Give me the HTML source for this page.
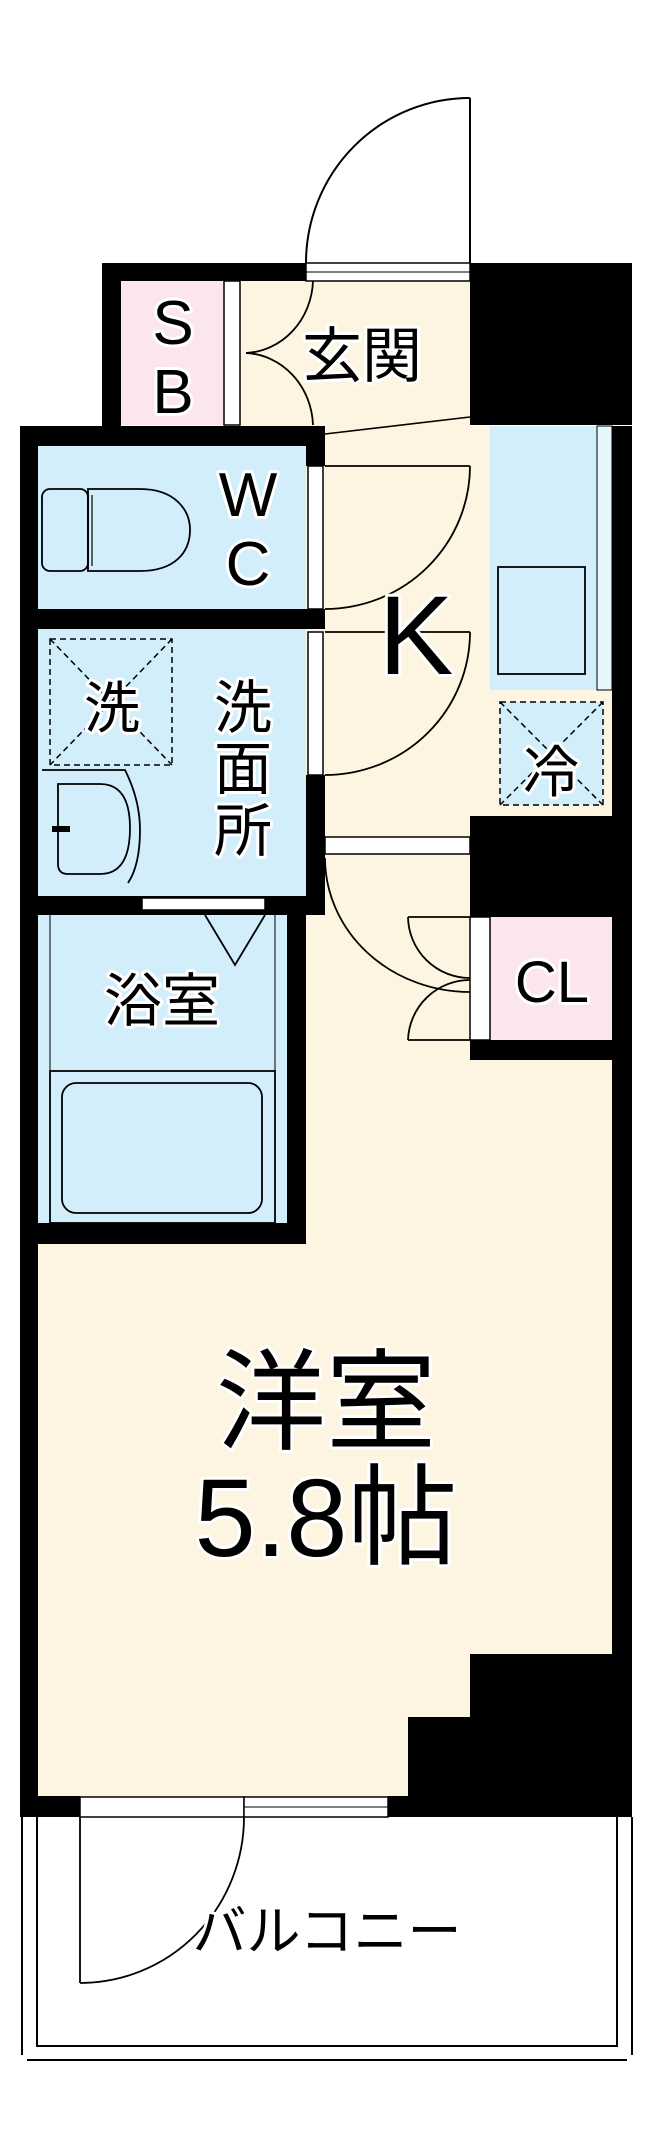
<!DOCTYPE html>
<html><head><meta charset="utf-8"><style>
html,body{margin:0;padding:0;background:#fff;}
svg{display:block;}
text{font-family:"Liberation Sans","Noto Sans CJK JP",sans-serif;fill:#000;stroke:#fff;stroke-width:6px;paint-order:stroke;stroke-linejoin:round;}
</style></head><body>
<svg width="654" height="2154" viewBox="0 0 654 2154" xmlns="http://www.w3.org/2000/svg">
<rect width="654" height="2154" fill="#fff"/>
<!-- floors -->
<rect x="240" y="281" width="230" height="150" fill="#fdf5e2"/>
<rect x="121" y="281" width="103" height="144" fill="#fbe6f0"/>
<rect x="306" y="426" width="306" height="1380" fill="#fdf5e2"/>
<rect x="38" y="1060" width="574" height="740" fill="#fdf5e2"/>
<rect x="38" y="446" width="268" height="163" fill="#d2eefa"/>
<rect x="38" y="629" width="268" height="267" fill="#d2eefa"/>
<rect x="38" y="915" width="249" height="308" fill="#d2eefa"/>
<rect x="490" y="426" width="122" height="264" fill="#d2eefa"/>
<rect x="597" y="426" width="15" height="264" fill="#e6f6fc" stroke="#000" stroke-width="1"/>
<rect x="490" y="917" width="122" height="123" fill="#fbe6f0"/>
<rect x="500" y="702" width="103" height="103" fill="#d2eefa"/>
<!-- entrance door -->
<line x1="470" y1="98" x2="470" y2="263" stroke="#000" stroke-width="2"/>
<path d="M470 98 A164 165 0 0 0 306 263" fill="none" stroke="#000" stroke-width="2"/>
<!-- walls -->
<g fill="#000">
<rect x="102" y="263" width="204" height="18"/>
<rect x="470" y="263" width="162" height="162"/>
<rect x="102" y="263" width="19" height="170"/>
<rect x="20" y="426" width="305" height="20"/>
<rect x="20" y="426" width="18" height="1391"/>
<rect x="306" y="426" width="19" height="40"/>
<rect x="20" y="609" width="305" height="20"/>
<rect x="306" y="775" width="19" height="140"/>
<rect x="20" y="896" width="305" height="19"/>
<rect x="287" y="896" width="19" height="348"/>
<rect x="20" y="1223" width="286" height="21"/>
<rect x="612" y="426" width="20" height="1391"/>
<rect x="470" y="816" width="162" height="101"/>
<rect x="470" y="1040" width="162" height="20"/>
<rect x="470" y="1654" width="162" height="163"/>
<rect x="408" y="1717" width="224" height="100"/>
<rect x="20" y="1796" width="60" height="21"/>
<rect x="388" y="1796" width="90" height="21"/>
</g>
<!-- white door/window strips -->
<g fill="#fff" stroke="#000" stroke-width="1.5">
<rect x="306" y="263" width="164" height="18"/>
<rect x="224" y="281" width="16" height="144"/>
<rect x="308" y="466" width="15" height="143"/>
<rect x="308" y="632" width="15" height="143"/>
<rect x="142" y="898" width="123" height="12"/>
<rect x="325" y="837" width="145" height="17"/>
<rect x="470" y="917" width="20" height="123"/>
<rect x="80" y="1797" width="164" height="20"/>
<rect x="244" y="1797" width="144" height="20"/>
</g>
<line x1="306" y1="272" x2="470" y2="272" stroke="#000" stroke-width="1"/>
<line x1="244" y1="1807" x2="388" y2="1807" stroke="#000" stroke-width="1"/>
<line x1="325" y1="434" x2="470" y2="417" stroke="#000" stroke-width="1.5"/>
<!-- doors -->
<g fill="none" stroke="#000" stroke-width="1.8">
<path d="M246 353 A70 75 0 0 0 313 281"/>
<path d="M246 353 A70 75 0 0 1 313 425"/>
<line x1="325" y1="466" x2="470" y2="466"/>
<path d="M470 466 A145 143 0 0 1 325 609"/>
<line x1="325" y1="632" x2="470" y2="632"/>
<path d="M470 632 A145 143 0 0 1 325 775"/>
<path d="M325 858 A145 134 0 0 0 470 992"/>
<line x1="408" y1="917" x2="470" y2="917"/>
<path d="M408 917 A62 62 0 0 0 470 978"/>
<line x1="408" y1="1040" x2="470" y2="1040"/>
<path d="M408 1040 A62 62 0 0 1 470 980"/>
<line x1="80" y1="1817" x2="80" y2="1983"/>
<path d="M244 1817 A164 166 0 0 1 80 1983"/>
</g>
<!-- fixtures -->
<g fill="none" stroke="#000" stroke-width="1.8">
<path d="M88 489 L140 489 C175 489 190 510 190 530 C190 552 175 571 140 571 L88 571 Z"/>
<rect x="42" y="489" width="46" height="82" rx="8"/>
<line x1="92" y1="495" x2="92" y2="566" stroke-width="1.2"/>
<path d="M42 770 L125 770 Q140 800 140 830 Q140 865 128 883"/>
<path d="M58 784 L100 784 Q130 784 130 828 Q130 874 100 874 L68 874 Q58 874 58 864 Z"/>
<line x1="52" y1="829" x2="70" y2="829" stroke-width="6"/>
<rect x="498" y="567" width="87" height="107"/>
<line x1="50" y1="915" x2="50" y2="1223" stroke-width="1"/>
<line x1="275" y1="915" x2="275" y2="1223" stroke-width="1"/>
<polyline points="205,915 235,965 265,915" />
<rect x="50" y="1071" width="225" height="152"/>
<rect x="62" y="1083" width="200" height="130" rx="14"/>
<line x1="22" y1="1817" x2="22" y2="2055" stroke-width="2"/>
<line x1="27" y1="2060" x2="627" y2="2060" stroke-width="2"/>
<line x1="632" y1="1817" x2="632" y2="2055" stroke-width="2"/>
<polyline points="37,1817 37,2046 617,2046 617,1817" stroke-width="2"/>
</g>
<g fill="none" stroke="#000" stroke-width="1.5" stroke-dasharray="6,4">
<rect x="50" y="639" width="122" height="126"/>
<line x1="50" y1="639" x2="172" y2="765"/>
<line x1="172" y1="639" x2="50" y2="765"/>
<rect x="500" y="702" width="103" height="103"/>
<line x1="500" y1="702" x2="603" y2="805"/>
<line x1="603" y1="702" x2="500" y2="805"/>
</g>
<!-- labels -->
<g text-anchor="middle">
<text x="173" y="344" font-size="62">S</text>
<text x="173" y="413" font-size="62">B</text>
<text x="362" y="377" font-size="60">玄関</text>
<text x="248" y="516" font-size="62">W</text>
<text x="248" y="585" font-size="62">C</text>
<text x="416" y="674" font-size="112">K</text>
<text x="112" y="728" font-size="56">洗</text>
<text x="243" y="728" font-size="58">洗</text>
<text x="243" y="789" font-size="58">面</text>
<text x="243" y="851" font-size="58">所</text>
<text x="551" y="792" font-size="56">冷</text>
<text x="552" y="1002" font-size="58">CL</text>
<text x="162" y="1021" font-size="58">浴室</text>
<text x="326" y="1441" font-size="110">洋室</text>
<text x="326" y="1556" font-size="110">5.8帖</text>
<text x="327" y="1950" font-size="54">バルコニー</text>
</g>
</svg>
</body></html>
